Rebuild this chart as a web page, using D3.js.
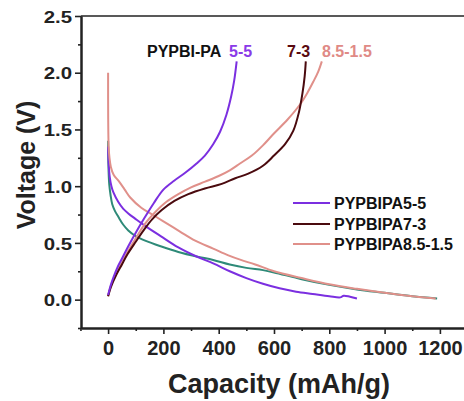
<!DOCTYPE html>
<html><head><meta charset="utf-8">
<script src="https://cdn.jsdelivr.net/npm/d3@7"></script>
<style>body{margin:0;background:#fff}svg{display:block}text{font-family:"Liberation Sans",Arial,sans-serif;font-weight:bold}</style>
</head><body><svg id="c" width="464" height="401"></svg>
<script>
// Data (capacity mAh/g, voltage V)
const charge55 = [[0,0.04],[10,0.13],[20,0.2],[35,0.29],[50,0.36],[73,0.47],[100,0.59],[134,0.73],[165,0.85],[200,0.97],[240,1.05],[280,1.12],[320,1.2],[350,1.27],[380,1.37],[405,1.48],[428,1.63],[445,1.79],[456,1.93],[465,2.1]];
const charge73 = [[0,0.03],[10,0.11],[30,0.22],[50,0.31],[70,0.4],[100,0.51],[134,0.63],[160,0.71],[194,0.79],[240,0.87],[290,0.93],[350,0.98],[411,1.02],[460,1.07],[507,1.11],[560,1.18],[600,1.27],[640,1.37],[670,1.49],[690,1.65],[703,1.82],[711,1.97],[715,2.1]];
const charge85 = [[0,0.03],[10,0.12],[30,0.23],[50,0.33],[70,0.42],[100,0.54],[134,0.67],[170,0.77],[210,0.86],[254,0.93],[300,0.99],[351,1.04],[400,1.09],[440,1.14],[477,1.2],[520,1.27],[560,1.36],[598,1.46],[650,1.59],[694,1.72],[720,1.82],[742,1.92],[760,2.01],[773,2.1]];
const discharge55 = [[0,1.35],[2,1.2],[6,1.08],[12,1.0],[20,0.94],[37,0.86],[55,0.8],[73,0.76],[100,0.71],[134,0.65],[190,0.56],[254,0.46],[320,0.38],[380,0.32],[440,0.25],[500,0.19],[560,0.14],[620,0.1],[680,0.07],[740,0.05],[800,0.03],[840,0.02],[852,0.035],[875,0.025],[900,0.01]];
const discharge73 = [[0,1.4],[1,1.2],[4,1.02],[9,0.92],[15,0.84],[25,0.78],[37,0.73],[55,0.66],[73,0.61],[100,0.56],[134,0.52],[190,0.47],[254,0.42],[320,0.38],[380,0.35],[440,0.31],[500,0.28],[560,0.26],[600,0.24],[700,0.18],[800,0.13],[900,0.09],[1000,0.06],[1100,0.03],[1190,0.01]];
const discharge85 = [[0,2.0],[0.3,1.6],[2,1.35],[5,1.25],[10,1.17],[20,1.1],[40,1.04],[60,0.97],[80,0.9],[120,0.81],[160,0.75],[200,0.69],[260,0.6],[315,0.52],[380,0.45],[435,0.39],[480,0.35],[532,0.31],[600,0.25],[700,0.19],[800,0.135],[900,0.095],[1000,0.06],[1100,0.03],[1185,0.01]];
const xTicks = [0,200,400,600,800,1000,1200];
const yTicks = [0.0,0.5,1.0,1.5,2.0,2.5];
const legendLabels = ["PYPBIPA5-5","PYPBIPA7-3","PYPBIPA8.5-1.5"];
const annotLabels = ["PYPBI-PA","5-5","7-3","8.5-1.5"];
const colors = {p55:"#7b2fe0", p73:"#4a0a0e", p85:"#e0908a", teal:"#2e8a78", black:"#111"};

const svg = d3.select("#c");
const L=81, T=16, B=328, R=470;
const x = d3.scaleLinear().domain([-98,1300]).range([L, L+(1300+98)*0.2765]);
const y = d3.scaleLinear().domain([-0.25,2.5]).range([B,T]);

// axes
const yAx = svg.append("g").attr("transform",`translate(${L},0)`)
  .call(d3.axisLeft(y).tickValues(yTicks).tickFormat(d3.format(".1f")).tickSize(6).tickSizeOuter(0));
const yMinor = svg.append("g").attr("transform",`translate(${L},0)`)
  .call(d3.axisLeft(y).tickValues([-0.25,0.25,0.75,1.25,1.75,2.25]).tickFormat("").tickSize(3).tickSizeOuter(0));
const xAx = svg.append("g").attr("transform",`translate(0,${B})`)
  .call(d3.axisBottom(x).tickValues(xTicks).tickFormat(d3.format("d")).tickSize(6).tickSizeOuter(0));
const xMinor = svg.append("g").attr("transform",`translate(0,${B})`)
  .call(d3.axisBottom(x).tickValues([100,300,500,700,900,1100,-100]).tickFormat("").tickSize(3).tickSizeOuter(0));
[yAx,yMinor,xAx,xMinor].forEach(g=>{g.select(".domain").attr("stroke","#222").attr("stroke-width",2);g.selectAll(".tick line").attr("stroke","#222").attr("stroke-width",1.6);});
yAx.selectAll("text").attr("font-size",17).attr("fill","#222").attr("x",-9/1.2).attr("dy","0.36em").attr("transform","scale(1.2,1)");
xAx.selectAll("text").attr("font-size",20).attr("fill","#222").attr("y",13);
// top border
svg.append("line").attr("x1",L).attr("x2",R).attr("y1",T).attr("y2",T).attr("stroke","#222").attr("stroke-width",1.6);

// titles
svg.append("text").attr("transform","translate(35,165) rotate(-90)").attr("text-anchor","middle").attr("font-size",25).attr("fill","#222").text("Voltage (V)");
svg.append("text").attr("x",279).attr("y",393).attr("text-anchor","middle").attr("font-size",27).attr("fill","#222").text("Capacity (mAh/g)");

// curves
const line = d3.line().x(d=>x(d[0])).y(d=>y(d[1])).curve(d3.curveCatmullRom.alpha(0.5));
const series = [
  [discharge73, colors.teal],
  [discharge55, colors.p55],
  [discharge85, colors.p85],
  [charge85, colors.p85],
  [charge73, colors.p73],
  [charge55, colors.p55]
];
svg.append("g").selectAll("path").data(series).join("path")
  .attr("d",d=>line(d[0])).attr("fill","none").attr("stroke",d=>d[1]).attr("stroke-width",2);

// annotations
const ann = svg.append("text").attr("y",56.5).attr("font-size",16);
ann.append("tspan").attr("x",147).attr("fill",colors.black).text(annotLabels[0]);
ann.append("tspan").attr("x",229).attr("fill","#8a3ae8").text(annotLabels[1]);
ann.append("tspan").attr("x",287).attr("fill","#5a0a10").text(annotLabels[2]);
ann.append("tspan").attr("x",322).attr("fill","#e08a86").text(annotLabels[3]);

// legend
const legY = [203,224,244];
const legC = [colors.p55, colors.p73, colors.p85];
const leg = svg.append("g");
legendLabels.forEach((lab,i)=>{
  leg.append("line").attr("x1",293).attr("x2",330).attr("y1",legY[i]).attr("y2",legY[i]).attr("stroke",legC[i]).attr("stroke-width",2);
  leg.append("text").attr("x",334).attr("y",legY[i]).attr("dy","0.36em").attr("font-size",16).attr("fill","#111").text(lab);
});
</script></body></html>
